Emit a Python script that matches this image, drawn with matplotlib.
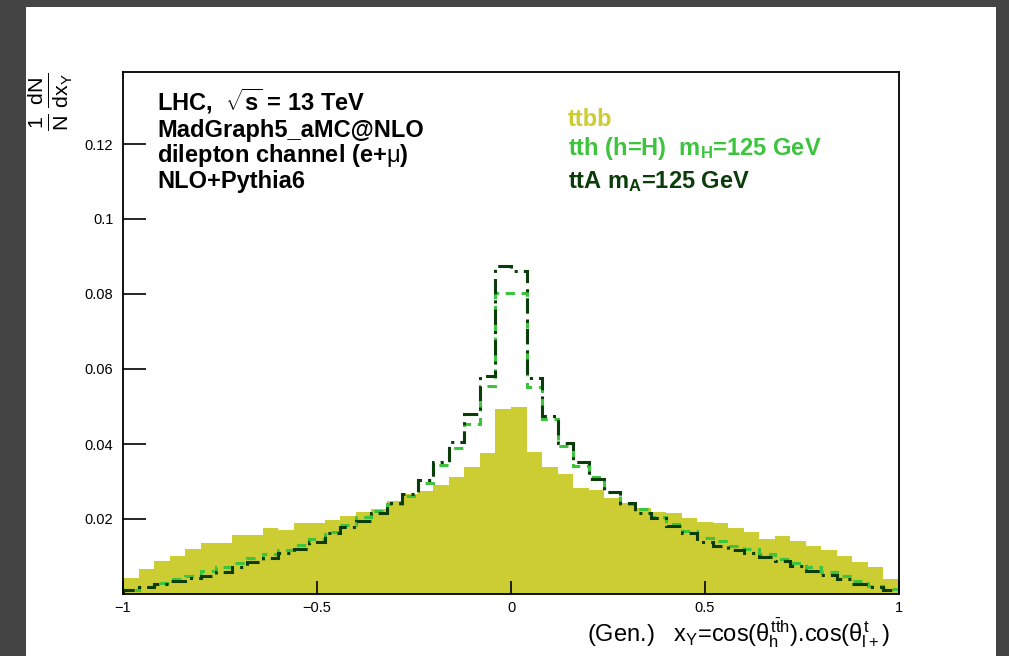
import numpy as np
import matplotlib
matplotlib.use("Agg")
import matplotlib.pyplot as plt
from matplotlib.patches import Rectangle

plt.rcParams['font.family'] = ['Liberation Sans', 'DejaVu Sans']
plt.rcParams['mathtext.fontset'] = 'custom'
plt.rcParams['mathtext.rm'] = 'Liberation Sans'
plt.rcParams['mathtext.it'] = 'Liberation Sans'
plt.rcParams['mathtext.bf'] = 'Liberation Sans:bold'

# 50 bins de -1 a 1
bin_edges = np.linspace(-1, 1, 51)

# ttbb (histograma rellenado)
ttbb = [0.0042, 0.0066, 0.0088, 0.0102, 0.0121, 0.0137, 0.0137, 0.0157, 0.0157, 0.0177,
        0.0172, 0.0190, 0.0190, 0.0198, 0.0208, 0.0219, 0.0228, 0.0247, 0.0268, 0.0275,
        0.0290, 0.0313, 0.0338, 0.0377, 0.0493, 0.0500, 0.0380, 0.0338, 0.0319, 0.0284,
        0.0277, 0.0255, 0.0242, 0.0230, 0.0220, 0.0215, 0.0202, 0.0193, 0.0190, 0.0177,
        0.0166, 0.0148, 0.0155, 0.0142, 0.0128, 0.0117, 0.0101, 0.0085, 0.0073, 0.0040]

# tth (h=H), m_H = 125 GeV
tth = [0.0011, 0.0020, 0.0030, 0.0040, 0.0048, 0.0062, 0.0072, 0.0082, 0.0096, 0.0108,
       0.0118, 0.0131, 0.0148, 0.0166, 0.0185, 0.0205, 0.0222, 0.0241, 0.0262, 0.0296,
       0.0345, 0.0389, 0.0453, 0.0555, 0.0802, 0.0802, 0.0551, 0.0466, 0.0396, 0.0341,
       0.0312, 0.0273, 0.0240, 0.0227, 0.0206, 0.0186, 0.0168, 0.0150, 0.0142, 0.0128,
       0.0120, 0.0106, 0.0094, 0.0083, 0.0071, 0.0060, 0.0049, 0.0034, 0.0022, 0.0014]

# ttA, m_A = 125 GeV
ttA = [0.0010, 0.0018, 0.0026, 0.0034, 0.0042, 0.0049, 0.0060, 0.0072, 0.0085, 0.0095,
       0.0110, 0.0121, 0.0140, 0.0162, 0.0178, 0.0196, 0.0216, 0.0244, 0.0268, 0.0305,
       0.0352, 0.0405, 0.0481, 0.0582, 0.0875, 0.0862, 0.0577, 0.0475, 0.0402, 0.0352,
       0.0308, 0.0273, 0.0242, 0.0217, 0.0202, 0.0182, 0.0162, 0.0140, 0.0128, 0.0118,
       0.0110, 0.0099, 0.0087, 0.0074, 0.0062, 0.0050, 0.0039, 0.0027, 0.0018, 0.0010]

col_ttbb = '#cccc33'
col_tth = '#3cc43c'
col_ttA = '#0b3d0b'

fig = plt.figure(figsize=(10.09, 6.56), dpi=100, facecolor='#444444')
# lienzo blanco
fig.patches.append(Rectangle((26 / 1009, 0), 970 / 1009, 649 / 656,
                             transform=fig.transFigure, facecolor='white',
                             edgecolor='none', zorder=-5))

ax = fig.add_axes([123 / 1009, 62 / 656, 776 / 1009, 522 / 656])
ax.set_zorder(2)
ax.patch.set_alpha(0)
ax.stairs(ttbb, bin_edges, fill=True, color=col_ttbb, lw=0)
ax.stairs(tth, bin_edges, color=col_tth, lw=2.2, linestyle=(0, (3, 2.2)))
ax.stairs(ttA, bin_edges, color=col_ttA, lw=2.2, linestyle=(0, (5, 2, 1, 2)))

ax.set_xlim(-1, 1)
ax.set_ylim(0, 0.1392)
ax.set_xticks([-1, -0.5, 0, 0.5, 1])
ax.set_xticklabels(['\u22121', '\u22120.5', '0', '0.5', '1'])
ax.set_yticks([0.02, 0.04, 0.06, 0.08, 0.1, 0.12])
ax.set_yticklabels(['0.02', '0.04', '0.06', '0.08', '0.1', '0.12'])
ax.tick_params(axis='y', direction='in', length=16.5, width=1.2, labelsize=10.5, pad=7,
               right=False)
ax.tick_params(axis='x', direction='in', length=9.5, width=1.2, labelsize=10.5, pad=5,
               top=False)
for s in ax.spines.values():
    s.set_linewidth(1.3)

# titulo del eje y (arriba a la izquierda, rotado)
fig.text(50 / 1009, 1 - 72 / 656, r'$\frac{1}{N}\,\frac{dN}{dx_{Y}}$', rotation=90,
         ha='center', va='top', fontsize=22)

# titulo del eje x
fig.text(890 / 1009, 1 - 641 / 656,
         r'(Gen.)   x$_{Y}$=cos($\theta_{h}^{t\bar{t}h}$).cos($\theta_{l+}^{t}$)',
         ha='right', va='baseline', fontsize=17)

# bloque de texto
info = ['LHC,  $\\sqrt{\\mathbf{s}}$ = 13 TeV', 'MadGraph5_aMC@NLO',
        'dilepton channel (e+$\\mu$)', 'NLO+Pythia6']
info_y = [111, 137, 162, 188]
for t, yy in zip(info, info_y):
    fig.text(157 / 1009, 1 - yy / 656, t, fontsize=17, fontweight='bold',
             ha='left', va='baseline', color='black')

# leyenda
leg = ['ttbb', 'tth (h=H)  m$_{\\mathbf{H}}$=125 GeV', 'ttA m$_{\\mathbf{A}}$=125 GeV']
leg_col = [col_ttbb, col_tth, col_ttA]
leg_y = [126, 155, 188]
for t, c, yy in zip(leg, leg_col, leg_y):
    fig.text(568 / 1009, 1 - yy / 656, t, fontsize=17, fontweight='bold',
             ha='left', va='baseline', color=c)

fig.savefig('out.png', dpi=100, facecolor=fig.get_facecolor())
